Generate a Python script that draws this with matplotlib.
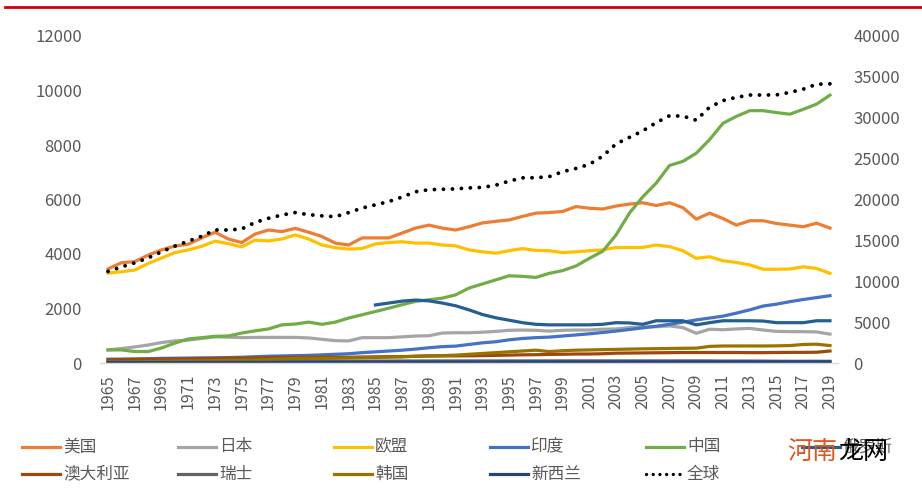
import matplotlib.pyplot as plt
from matplotlib.lines import Line2D

plt.rcParams['font.family'] = ['Noto Sans CJK SC', 'DejaVu Sans']

# 1965-2019
years = list(range(1965, 2020))

usa = [3450, 3680, 3720, 3960, 4150, 4290, 4360, 4590, 4800, 4550,
       4420, 4730, 4880, 4820, 4940, 4800, 4640, 4400, 4330, 4590,
       4590, 4590, 4770, 4950, 5060, 4950, 4880, 5000, 5140, 5200,
       5250, 5380, 5500, 5520, 5560, 5740, 5680, 5650, 5760, 5830,
       5880, 5780, 5880, 5700, 5280, 5500, 5300, 5060, 5220, 5220,
       5120, 5060, 5000, 5130, 4950]
japan = [480, 530, 590, 660, 750, 810, 840, 900, 960, 950,
         930, 940, 940, 940, 940, 920, 870, 820, 810, 930,
         930, 930, 960, 990, 1000, 1100, 1110, 1110, 1130, 1160,
         1200, 1210, 1200, 1170, 1200, 1210, 1210, 1240, 1250, 1300,
         1320, 1330, 1360, 1300, 1090, 1240, 1220, 1250, 1270, 1210,
         1160, 1150, 1150, 1140, 1060]
eu = [3300, 3350, 3410, 3650, 3850, 4050, 4150, 4280, 4470, 4380,
      4260, 4510, 4480, 4550, 4700, 4550, 4330, 4230, 4180, 4200,
      4370, 4420, 4450, 4400, 4400, 4330, 4300, 4150, 4080, 4030,
      4120, 4200, 4130, 4120, 4050, 4080, 4120, 4150, 4240, 4240,
      4240, 4330, 4270, 4120, 3840, 3900, 3750, 3690, 3600, 3440,
      3440, 3450, 3530, 3470, 3290]
india = [140, 145, 150, 160, 170, 175, 180, 190, 190, 200,
         210, 230, 250, 260, 270, 280, 300, 320, 340, 380,
         410, 440, 470, 510, 560, 600, 620, 680, 740, 780,
         850, 900, 930, 950, 990, 1030, 1070, 1120, 1170, 1230,
         1290, 1350, 1420, 1500, 1580, 1650, 1720, 1830, 1950, 2090,
         2160, 2250, 2330, 2400, 2470]
china = [480, 480, 420, 420, 550, 730, 880, 930, 980, 990,
         1100, 1180, 1250, 1400, 1430, 1500, 1420, 1500, 1650, 1770,
         1890, 2010, 2140, 2260, 2320, 2380, 2500, 2750, 2900, 3050,
         3200, 3180, 3140, 3290, 3390, 3560, 3840, 4100, 4700, 5500,
         6100, 6600, 7250, 7400, 7700, 8200, 8800, 9050, 9260, 9260,
         9190, 9130, 9310, 9500, 9830]
# 俄罗斯 from 1985
russia_years = list(range(1985, 2020))
russia = [2130, 2200, 2270, 2310, 2280, 2200, 2100, 1950, 1780, 1660,
          1570, 1480, 1420, 1400, 1400, 1400, 1400, 1420, 1480, 1470,
          1420, 1550, 1550, 1550, 1400, 1480, 1550, 1550, 1550, 1540,
          1480, 1480, 1480, 1550, 1550]
australia = [120, 125, 130, 135, 140, 150, 155, 160, 170, 175,
             180, 185, 195, 200, 205, 210, 215, 215, 210, 220,
             225, 230, 235, 245, 255, 260, 260, 265, 270, 280,
             290, 300, 305, 315, 320, 330, 330, 340, 360, 365,
             370, 375, 380, 385, 385, 385, 385, 385, 380, 380,
             385, 390, 390, 395, 440]
swiss = [40, 42, 45, 48, 50, 55, 58, 60, 62, 62,
         62, 64, 65, 66, 68, 68, 68, 68, 70, 70,
         72, 72, 74, 74, 75, 75, 76, 76, 76, 76,
         76, 76, 77, 77, 78, 78, 78, 78, 78, 78,
         78, 78, 77, 78, 78, 76, 72, 72, 72, 70,
         66, 64, 64, 64, 62]
korea = [30, 35, 40, 50, 60, 70, 75, 80, 90, 95,
         100, 115, 130, 150, 165, 170, 170, 175, 185, 195,
         205, 215, 225, 250, 265, 270, 290, 320, 350, 380,
         410, 440, 470, 420, 450, 470, 480, 490, 500, 510,
         520, 525, 535, 540, 545, 610, 625, 625, 625, 625,
         630, 640, 680, 690, 640]
nz = [15, 15, 16, 16, 17, 18, 18, 19, 20, 20,
      20, 21, 21, 22, 22, 23, 24, 25, 26, 27,
      28, 29, 29, 30, 30, 31, 31, 32, 32, 33,
      34, 34, 35, 35, 36, 36, 37, 37, 37, 38,
      38, 38, 38, 38, 38, 38, 38, 38, 38, 38,
      38, 38, 38, 38, 38]
world = [11200, 11750, 12250, 12850, 13600, 14300, 14900, 15500, 16270, 16270,
         16400, 17200, 17700, 18100, 18400, 18150, 18000, 17900, 18400, 18950,
         19350, 19750, 20300, 20950, 21200, 21250, 21300, 21420, 21480, 21750,
         22250, 22650, 22660, 22800, 23400, 23800, 24300, 25300, 26800, 27600,
         28400, 29400, 30250, 30200, 29700, 31300, 32100, 32500, 32780, 32780,
         32800, 33100, 33500, 34100, 34150]

W, H = 922, 488
fig = plt.figure(figsize=(W / 100, H / 100), dpi=100)
ax = fig.add_axes([100 / W, 125 / H, 738 / W, 327 / H])
ax2 = ax.twinx()

lw = 2.3
series = [
    ('美国', years, usa, '#ED7D31'),
    ('日本', years, japan, '#A5A5A5'),
    ('欧盟', years, eu, '#FFC000'),
    ('印度', years, india, '#4472C4'),
    ('中国', years, china, '#70AD47'),
    ('俄罗斯', russia_years, russia, '#255E91'),
    ('澳大利亚', years, australia, '#9E480E'),
    ('瑞士', years, swiss, '#636363'),
    ('韩国', years, korea, '#997300'),
    ('新西兰', years, nz, '#264478'),
]
for name, xs, ys, c in series:
    ax.plot(xs, ys, color=c, lw=lw, solid_joinstyle='round')

dots = (0, (0.01, 2.3))
ax2.plot(years, world, color='black', lw=2.8, linestyle=dots,
         dash_capstyle='round')

ax.set_xlim(1964.4, 2019.6)
ax.set_ylim(0, 12000)
ax2.set_ylim(0, 40000)
ax.set_yticks(range(0, 12001, 2000))
ax2.set_yticks(range(0, 40001, 5000))
ax.set_xticks(years[::2])
ax.set_xticklabels([str(y) for y in years[::2]], rotation=90)

tc = '#595959'
ax.tick_params(axis='y', length=0, pad=13, labelsize=12, labelcolor=tc)
ax2.tick_params(axis='y', length=0, pad=11, labelsize=12, labelcolor=tc)
ax.tick_params(axis='x', length=0, pad=8, labelsize=11.5, labelcolor=tc)

for a in (ax, ax2):
    for s in ('top', 'left', 'right'):
        a.spines[s].set_visible(False)
    a.spines['bottom'].set_visible(False)
ax.spines['bottom'].set_visible(True)
ax.spines['bottom'].set_color('#D9D9D9')
ax.spines['bottom'].set_linewidth(1)

# legend, laid out by hand in two rows
legend_rows = [
    [('美国', '#ED7D31', '-'), ('日本', '#A5A5A5', '-'), ('欧盟', '#FFC000', '-'),
     ('印度', '#4472C4', '-'), ('中国', '#70AD47', '-'), ('俄罗斯', '#255E91', '-')],
    [('澳大利亚', '#9E480E', '-'), ('瑞士', '#636363', '-'), ('韩国', '#997300', '-'),
     ('新西兰', '#264478', '-'), ('全球', 'black', ':')],
]
row_y = [447, 474]
for r, row in enumerate(legend_rows):
    yf = 1 - row_y[r] / H
    for i, (name, c, st) in enumerate(row):
        x0 = 22 + 156 * i
        if st == ':':
            ln = Line2D([x0 / W, (x0 + 38) / W], [yf, yf], transform=fig.transFigure,
                        color=c, lw=2.4, linestyle=(0, (0.01, 2.0)), dash_capstyle='round')
        else:
            ln = Line2D([x0 / W, (x0 + 38) / W], [yf, yf], transform=fig.transFigure,
                        color=c, lw=lw)
        fig.add_artist(ln)
        fig.text((x0 + 41) / W, yf, name, fontsize=12, color=tc, va='center', ha='left')

# red rule at the top
fig.add_artist(Line2D([5 / W, 1], [1 - 7 / H, 1 - 7 / H], transform=fig.transFigure,
                      color='#D00000', lw=2))

# watermark
fig.text(787 / W, 1 - 452 / H, '河南', fontsize=18, color='#E2561B', va='center')
fig.text(838 / W, 1 - 452 / H, '龙网', fontsize=18, color='black', va='center')

fig.savefig('out.png', dpi=100)
